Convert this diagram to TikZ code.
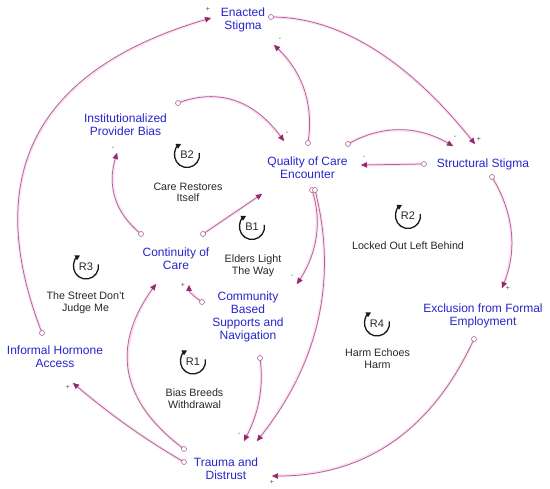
\documentclass[tikz,border=0pt]{standalone}
\usepackage{fontspec}
\setmainfont{Liberation Sans}
\usetikzlibrary{arrows.meta,calc}
\definecolor{varblue}{RGB}{38,38,205}
\definecolor{linkc}{RGB}{176,96,150}
\definecolor{tipc}{RGB}{150,40,110}
\definecolor{halo}{RGB}{252,226,242}
\definecolor{loopgray}{RGB}{40,40,40}
\begin{document}
\begin{tikzpicture}[x=1pt,y=-1pt,
  var/.style={text=varblue,font=\fontsize{12}{13}\selectfont,align=center,inner sep=0pt},
  looptxt/.style={text=loopgray,font=\fontsize{10.7}{11.6}\selectfont,align=center,inner sep=0pt},
  loopid/.style={text=loopgray,font=\fontsize{11}{11}\selectfont,inner sep=0pt},
  looparc/.style={draw=black!90,line width=1.3pt,-{Triangle[length=5pt,width=5pt]}},
  link/.style={draw=linkc,line width=0.75pt,-{Triangle[length=6pt,width=5.5pt,color=tipc]},
    preaction={draw=halo,line width=3pt,arrows=-}},
  orig/.style={circle,draw=linkc,fill=white,inner sep=0pt,minimum size=5pt,line width=0.6pt},
  pol/.style={text=black!70,font=\fontsize{7}{7}\selectfont,inner sep=0pt}]
\useasboundingbox[fill=white] (0,0) rectangle (550,489);

% variables
\node[var] (enacted) at (243,20) {Enacted\\Stigma};
\node[var] (ipb) at (125.5,124.5) {Institutionalized\\Provider Bias};
\node[var] (qoc) at (307.5,168) {Quality of Care\\Encounter};
\node[var] (ss) at (483,164) {Structural Stigma};
\node[var] (coc) at (176,259) {Continuity of\\Care};
\node[var] (cbs) at (248,317) {Community\\Based\\Supports and\\Navigation};
\node[var] (iha) at (55,357) {Informal Hormone\\Access};
\node[var] (td) at (226,468.5) {Trauma and\\Distrust};
\node[var] (ex) at (483,316) {Exclusion from Formal\\Employment};

% loop markers
\node[loopid] (b2) at (187,155) {B2};
\node[looptxt] (b2t) at (188,192.5) {Care Restores\\Itself};
\node[loopid] (b1) at (252,227) {B1};
\node[looptxt] (b1t) at (253,266) {Elders Light\\The Way};
\node[loopid] (r2) at (408,216) {R2};
\node[looptxt] (r2t) at (408,246) {Locked Out Left Behind};
\node[loopid] (r3) at (86,266.5) {R3};
\node[looptxt] (r3t) at (85.5,303) {The Street Don't\\Judge Me};
\node[loopid] (r1) at (193,361.5) {R1};
\node[looptxt] (r1t) at (194.5,398.5) {Bias Breeds\\Withdrawal};
\node[loopid] (r4) at (377,323.5) {R4};
\node[looptxt] (r4t) at (377.5,358.5) {Harm Echoes\\Harm};
\foreach \n in {b2,b1,r2,r3,r1,r4}{
  \draw[looparc] ([shift={(10:12.5pt)}]\n.center) arc[start angle=10,end angle=-242,radius=12.5pt];
}

% connector end points
\coordinate (s1) at (42,333);   \coordinate (e1) at (211,18);
\coordinate (s2) at (271,17);   \coordinate (e2) at (475,144);
\coordinate (s3) at (308,143);  \coordinate (e3) at (274,45);
\coordinate (s4) at (178,103);  \coordinate (e4) at (284,141);
\coordinate (s5) at (348,144);  \coordinate (e5) at (453,146);
\coordinate (s6) at (424,164);  \coordinate (e6) at (361,165);
\coordinate (s7) at (492,177);  \coordinate (e7) at (502,288);
\coordinate (s8) at (474,339);  \coordinate (e8) at (272,476);
\coordinate (s9) at (312,190);  \coordinate (e9) at (297,284);
\coordinate (s10) at (315,190); \coordinate (e10) at (257,441);
\coordinate (s11) at (260,358); \coordinate (e11) at (244,441);
\coordinate (s12) at (202,302); \coordinate (e12) at (189,285);
\coordinate (s13) at (184,449); \coordinate (e13) at (156,284);
\coordinate (s14) at (184,462); \coordinate (e14) at (73,383);
\coordinate (s15) at (203,234); \coordinate (e15) at (262,194);
\coordinate (s16) at (141,234); \coordinate (e16) at (117,153);

% connectors
\draw[link] (s1) .. controls (-19.7,174) and (36.7,69) .. (e1);
\draw[link] (s2) .. controls (339,17) and (407,59.3) .. (e2);
\draw[link] (s3) .. controls (314,105) and (302.7,72.3) .. (e3);
\draw[link] (s4) .. controls (218.7,87.7) and (254,100.3) .. (e4);
\draw[link] (s5) .. controls (382.3,124.7) and (417.3,125.3) .. (e5);
\draw[link] (s6) -- (e6);
\draw[link] (s7) .. controls (514,213.3) and (517.3,250.3) .. (e7);
\draw[link] (s8) .. controls (432,430.7) and (364.7,476.3) .. (e8);
\draw[link] (s9) .. controls (322.3,221.3) and (317.3,252.7) .. (e9);
\draw[link] (s10) .. controls (338,279.7) and (318.7,363.3) .. (e10);
\draw[link] (s11) .. controls (264,386.3) and (258.7,413.3) .. (e11);
\draw[link] (s12) .. controls (196,298) and (189,292) .. (e12);
\draw[link] (s13) .. controls (120,401.3) and (110.7,346.3) .. (e13);
\draw[link] (s14) .. controls (146.3,440.3) and (109.3,414) .. (e14);
\draw[link] (s15) -- (e15);
\draw[link] (s16) .. controls (115,213) and (107,186) .. (e16);

\foreach \p in {s1,s2,s3,s4,s5,s6,s7,s8,s9,s10,s11,s12,s13,s14,s15,s16}{
  \node[orig] at (\p) {};
}

% polarities
\node[pol] (p1) at (208,9) {+};
\node[pol] (p2) at (479,139) {+};
\node[pol] (p3) at (280,39) {-};
\node[pol] (p4) at (287,133) {-};
\node[pol] (p5) at (455,137) {-};
\node[pol] (p6) at (364,157) {-};
\node[pol] (p7) at (508,288) {+};
\node[pol] (p8) at (272,482) {+};
\node[pol] (p9) at (292,276) {-};
\node[pol] (p11) at (239,434) {-};
\node[pol] (p12) at (183,285) {+};
\node[pol] (p14) at (68,387) {+};
\node[pol] (p16) at (113,148) {-};
\end{tikzpicture}
\end{document}
